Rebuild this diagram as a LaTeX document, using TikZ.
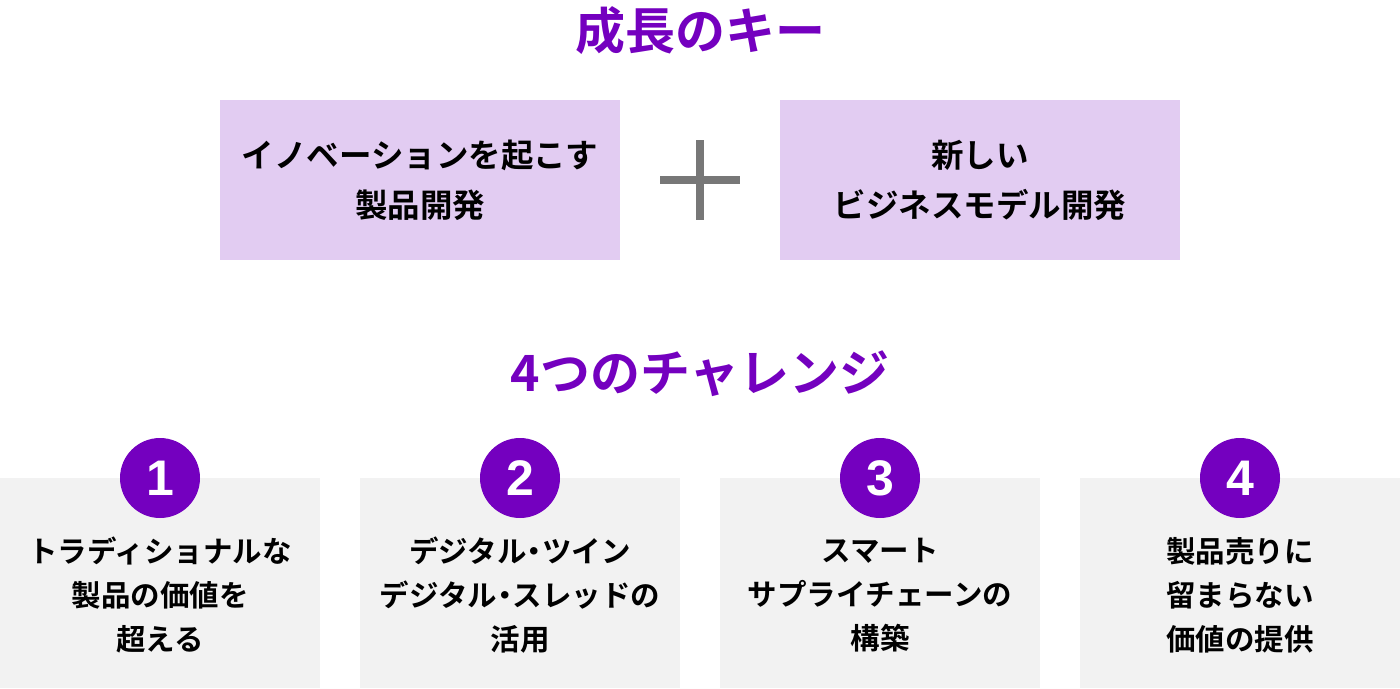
\documentclass[tikz,border=0pt]{standalone}
\usepackage{fontspec}
\setmainfont{Noto Sans CJK JP}[BoldFont={Noto Sans CJK JP Bold}]
\newfontfamily\numfont{Liberation Sans}
\definecolor{purp}{HTML}{7400BF}
\definecolor{lav}{HTML}{E2CCF2}
\definecolor{lgray}{HTML}{F2F2F2}
\definecolor{pgray}{HTML}{777777}
\newcommand{\ndot}{\hspace{-0.24em}・\hspace{-0.24em}}
\begin{document}
\begin{tikzpicture}[x=1pt,y=-1pt,
  title/.style={text=purp,font=\bfseries\fontsize{50}{56}\selectfont,inner sep=0pt},
  keybox/.style={fill=lav,minimum width=400pt,minimum height=160pt,inner sep=0pt,align=center,
    font=\bfseries\fontsize{32.5}{50}\selectfont},
  chbox/.style={fill=lgray,minimum width=320pt,minimum height=210pt,inner sep=0pt},
  chtext/.style={align=center,font=\bfseries\fontsize{29.5}{44}\selectfont,inner sep=0pt},
  numc/.style={circle,fill=purp,minimum size=80pt,inner sep=0pt,text=white,
    font=\numfont\bfseries\fontsize{50}{50}\selectfont}]
\useasboundingbox (0,0) rectangle (1400,688);
\node[title] (t1) at (700,31) {成長のキー};
\node[keybox] (k1) at (420,180) {イノベーションを起こす\\製品開発};
\node[keybox] (k2) at (980,180) {新しい\\ビジネスモデル開発};
\fill[pgray] (696,140) rectangle (704,220);
\fill[pgray] (660,176) rectangle (740,184);
\node[title] (t2) at (700,374) {4つのチャレンジ};
\foreach \i/\cx in {1/160,2/520,3/880,4/1240}{
  \node[chbox] (b\i) at (\cx,583) {};
  \node[numc] (n\i) at (\cx,478) {\i};
}
\node[chtext] (c1) at (160,595) {トラディショナルな\\製品の価値を\\超える};
\node[chtext] (c2) at (520,595) {デジタル\ndot ツイン\\デジタル\ndot スレッドの\\活用};
\node[chtext] (c3) at (880,595) {スマート\\サプライチェーンの\\構築};
\node[chtext] (c4) at (1240,595) {製品売りに\\留まらない\\価値の提供};
\end{tikzpicture}
\end{document}
